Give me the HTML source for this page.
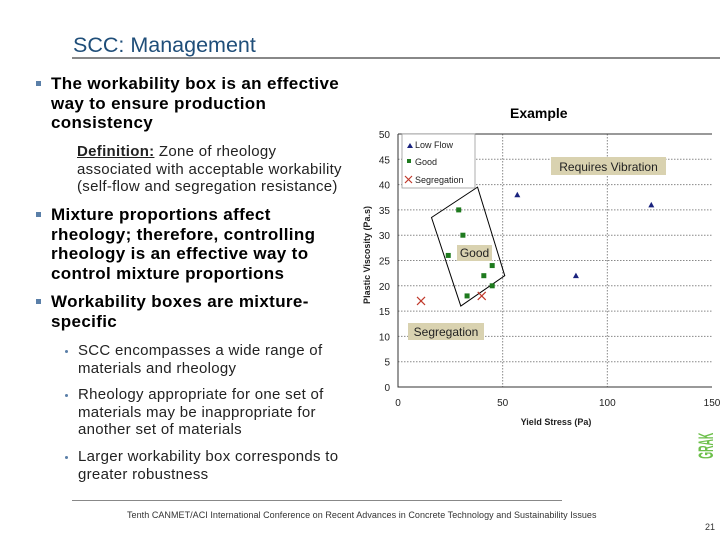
<!DOCTYPE html>
<html><head><meta charset="utf-8"><style>
body{margin:0;width:720px;height:540px;background:#fff;position:relative;overflow:hidden;font-family:"Liberation Sans",Arial,sans-serif;color:#000}
.t{position:absolute;white-space:nowrap}
.b{font-weight:bold;font-size:17px;line-height:19.6px;letter-spacing:0.35px}
.d{font-size:15px;line-height:17.5px;color:#222;letter-spacing:0.3px}
.s{font-size:15px;line-height:17.5px;color:#222;letter-spacing:0.3px}
.sq{position:absolute;width:5px;height:5px;background:#5a7fa8}
.dot{position:absolute;width:3px;height:3px;border-radius:50%;background:#5a7fa8}
</style></head><body>
<div class="t" style="left:73px;top:33px;font-size:21.5px;color:#1f4e79">SCC: Management</div>
<div style="position:absolute;left:72px;top:57px;width:648px;height:2px;background:#888"></div>

<div class="sq" style="left:36px;top:81px"></div>
<div class="t b" style="left:51px;top:74px">The workability box is an effective<br>way to ensure production<br>consistency</div>
<div class="t d" style="left:77px;top:143px"><b style="text-decoration:underline">Definition:</b> Zone of rheology<br>associated with acceptable workability<br>(self-flow and segregation resistance)</div>

<div class="sq" style="left:36px;top:212px"></div>
<div class="t b" style="left:51px;top:205px">Mixture proportions affect<br>rheology; therefore, controlling<br>rheology is an effective way to<br>control mixture proportions</div>

<div class="sq" style="left:36px;top:299px"></div>
<div class="t b" style="left:51px;top:292px">Workability boxes are mixture-<br>specific</div>

<div class="dot" style="left:65px;top:350px"></div>
<div class="t s" style="left:78px;top:342px">SCC encompasses a wide range of<br>materials and rheology</div>
<div class="dot" style="left:65px;top:394px"></div>
<div class="t s" style="left:78px;top:386px">Rheology appropriate for one set of<br>materials may be inappropriate for<br>another set of materials</div>
<div class="dot" style="left:65px;top:456px"></div>
<div class="t s" style="left:78px;top:448px">Larger workability box corresponds to<br>greater robustness</div>

<div class="t" style="left:510px;top:105px;font-size:14px;font-weight:bold">Example</div>

<svg id="chart" style="position:absolute;left:0;top:0" width="720" height="540"></svg>

<div style="position:absolute;left:72px;top:500px;width:490px;height:1px;background:#888"></div>
<div class="t" style="left:127px;top:510px;font-size:9px;letter-spacing:0.05px;color:#333">Tenth CANMET/ACI International Conference on Recent Advances in Concrete Technology and Sustainability Issues</div>
<div class="t" style="left:705px;top:522px;font-size:9px;color:#333">21</div>
<div class="t" style="left:679px;top:436px;width:56px;height:22px;line-height:22px;text-align:center;font-size:21px;font-weight:bold;color:#6cbf4a;transform:rotate(-90deg) scaleX(0.42);transform-origin:center">GRAK</div>

<script>
const xTicks=[0,50,100,150];
const yTicks=[0,5,10,15,20,25,30,35,40,45,50];
const lowFlowX=[57,85,121];
const lowFlowY=[38,22,36];
const goodX=[29,31,24,45,41,45,33];
const goodY=[35,30,26,24,22,20,18];
const segX=[11,40];
const segY=[17,18];
const boxX=[16,38,51,30];
const boxY=[33.5,39.5,22,16];
const svg=document.getElementById('chart');
const NS='http://www.w3.org/2000/svg';
const X0=398,X1=712,Y0=387,Y1=134;
const sx=v=>X0+(v-0)/(150)*(X1-X0);
const sy=v=>Y0-(v-0)/(50)*(Y0-Y1);
function mk(tag,a){const e=document.createElementNS(NS,tag);for(const k in a)e.setAttribute(k,a[k]);svg.appendChild(e);return e;}
yTicks.forEach(t=>{
  if(t>0&&t<50){const g=mk('line',{x1:X0,x2:X1,y1:sy(t),y2:sy(t),stroke:'#888','stroke-dasharray':'1.5,1.5','stroke-width':1});
  
  }
  const l=mk('text',{x:X0-8,y:sy(t)+4,'text-anchor':'end','font-size':10,fill:'#222','font-family':'Liberation Sans, sans-serif'});
  l.textContent=t;
  
  
});
xTicks.forEach(t=>{
  if(t>0&&t<150){const g=mk('line',{x1:sx(t),x2:sx(t),y1:Y1,y2:Y0,stroke:'#888','stroke-dasharray':'1.5,1.5','stroke-width':1});
  
  }
  const l=mk('text',{x:sx(t),y:Y0+19,'text-anchor':'middle','font-size':10,fill:'#222','font-family':'Liberation Sans, sans-serif'});
  l.textContent=t;
  
  
});
const ax=mk('path',{d:`M${X0},${Y1}V${Y0}H${X1}M${X0},${Y1}H${X1}`,stroke:'#333',fill:'none','stroke-width':1});


const xt=mk('text',{x:556,y:425,'text-anchor':'middle','font-size':9,'font-weight':'bold',fill:'#222','font-family':'Liberation Sans, sans-serif'});
xt.textContent='Yield Stress (Pa)';


const yt=mk('text',{x:0,y:0,'text-anchor':'middle','font-size':9,'font-weight':'bold',fill:'#222','font-family':'Liberation Sans, sans-serif',transform:'translate(370,255) rotate(-90)'});
yt.textContent='Plastic Viscosity (Pa.s)';


const bp=mk('polygon',{points:boxX.map((v,i)=>sx(v)+','+sy(boxY[i])).join(' '),fill:'none',stroke:'#000','stroke-width':1});


function zone(x,y,w,h,txt,name){const r=mk('rect',{x,y,width:w,height:h,fill:'#d9d2b0'});


const t=mk('text',{x:x+w/2,y:y+h-4,'text-anchor':'middle','font-size':12,fill:'#222','font-family':'Liberation Sans, sans-serif'});t.textContent=txt;

}
zone(551,157,115,18,'Requires Vibration','zone-requires-vibration');
zone(457,245,35,16,'Good','zone-good');
zone(408,323,76,17,'Segregation','zone-segregation');
lowFlowX.forEach((v,i)=>{const p=mk('polygon',{points:`${sx(v)},${sy(lowFlowY[i])-3} ${sx(v)-3},${sy(lowFlowY[i])+2.5} ${sx(v)+3},${sy(lowFlowY[i])+2.5}`,fill:'#1a237e'});

});
goodX.forEach((v,i)=>{const p=mk('rect',{x:sx(v)-2.5,y:sy(goodY[i])-2.5,width:5,height:5,fill:'#1e7a1e'});

});
segX.forEach((v,i)=>{const c=sx(v),d=sy(segY[i]);const p=mk('path',{d:`M${c-4},${d-4}L${c+4},${d+4}M${c+4},${d-4}L${c-4},${d+4}`,stroke:'#c0392b','stroke-width':1.2});

});
const lg=mk('rect',{x:402,y:134,width:73,height:54,fill:'#fff',stroke:'#999','stroke-width':0.8});


const lt=[['Low Flow',145],['Good',162],['Segregation',180]];
lt.forEach((e,i)=>{const t=mk('text',{x:415,y:e[1]+3,'font-size':9,fill:'#222','font-family':'Liberation Sans, sans-serif'});t.textContent=e[0];

});
mk('polygon',{points:'410,143 407,148 413,148',fill:'#1a237e'});
mk('rect',{x:407,y:159,width:4,height:4,fill:'#1e7a1e'});
mk('path',{d:'M405,176L412,183M412,176L405,183',stroke:'#c0392b','stroke-width':1.2});
</script>
</body></html>
